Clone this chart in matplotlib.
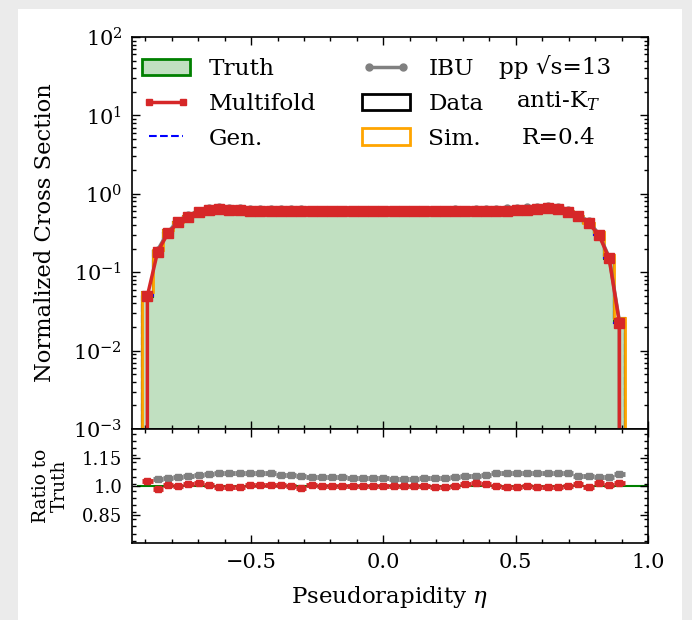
import numpy as np
import matplotlib
matplotlib.use("Agg")
import matplotlib.pyplot as plt
from matplotlib.patches import Patch, Rectangle
from matplotlib.lines import Line2D
from matplotlib.ticker import MultipleLocator, LogLocator, NullFormatter

plt.rcParams['font.family'] = ['DejaVu Serif']
plt.rcParams['mathtext.fontset'] = 'dejavuserif'

# ---------------- data ----------------
edges = np.linspace(-0.95, 0.95, 50)

truth = [0, 0.0487, 0.1856, 0.3118, 0.432, 0.5055, 0.5697, 0.6175, 0.6432, 0.6231,
         0.6175, 0.6058, 0.6058, 0.6026, 0.6008, 0.5988, 0.6004, 0.5976, 0.60, 0.60,
         0.5988, 0.598, 0.5992, 0.60, 0.60, 0.60, 0.6012, 0.60, 0.602, 0.6024,
         0.6024, 0.602, 0.5996, 0.6016, 0.6016, 0.605, 0.6124, 0.6175, 0.6313, 0.6426,
         0.6526, 0.6426, 0.59, 0.5154, 0.4217, 0.2947, 0.149, 0.0224, 0]

multifold = [0, 0.050, 0.183, 0.313, 0.432, 0.51, 0.58, 0.62, 0.64, 0.62,
             0.615, 0.61, 0.61, 0.605, 0.605, 0.60, 0.595, 0.60, 0.60, 0.60,
             0.60, 0.598, 0.598, 0.60, 0.60, 0.60, 0.60, 0.60, 0.602, 0.60,
             0.60, 0.602, 0.605, 0.61, 0.607, 0.605, 0.61, 0.615, 0.63, 0.64,
             0.65, 0.64, 0.59, 0.52, 0.42, 0.30, 0.15, 0.0227, 0]

ibu = [0, np.nan, 0.1923, 0.3243, 0.4532, 0.5328, 0.6027, 0.6552, 0.6869, 0.6655,
       0.6595, 0.6470, 0.6470, 0.6436, 0.6356, 0.6335, 0.6328, 0.6269, 0.6294, 0.6294,
       0.6281, 0.6219, 0.6232, 0.624, 0.624, 0.6216, 0.6228, 0.6228, 0.6261, 0.6271,
       0.6271, 0.6321, 0.6296, 0.6317, 0.6371, 0.6474, 0.6553, 0.6607, 0.6755, 0.6876,
       0.6963, 0.6857, 0.6295, 0.5432, 0.4445, 0.3080, 0.1557, 0.0238, 0]

gen = [0, 0.049, 0.184, 0.314, 0.436, 0.512, 0.578, 0.626, 0.650, 0.632,
       0.626, 0.614, 0.614, 0.611, 0.609, 0.607, 0.609, 0.606, 0.609, 0.609,
       0.607, 0.607, 0.608, 0.609, 0.609, 0.609, 0.610, 0.609, 0.611, 0.611,
       0.611, 0.611, 0.608, 0.610, 0.611, 0.614, 0.621, 0.626, 0.640, 0.651,
       0.660, 0.650, 0.598, 0.520, 0.425, 0.296, 0.150, 0.0224, 0]

sim = [0, 0.056, 0.190, 0.350, 0.440, 0.520, 0.585, 0.620, 0.635, 0.620,
       0.612, 0.606, 0.605, 0.603, 0.602, 0.600, 0.600, 0.599, 0.600, 0.600,
       0.599, 0.598, 0.599, 0.600, 0.600, 0.600, 0.600, 0.600, 0.601, 0.602,
       0.602, 0.602, 0.601, 0.602, 0.603, 0.605, 0.610, 0.615, 0.628, 0.638,
       0.645, 0.635, 0.595, 0.525, 0.430, 0.330, 0.168, 0.026, 0]

data = [0, 0.0555, 0.189, 0.348, 0.438, 0.518, 0.583, 0.618, 0.633, 0.618,
        0.610, 0.604, 0.603, 0.601, 0.600, 0.598, 0.598, 0.597, 0.598, 0.598,
        0.597, 0.596, 0.597, 0.598, 0.598, 0.598, 0.598, 0.598, 0.599, 0.600,
        0.600, 0.600, 0.599, 0.600, 0.601, 0.603, 0.608, 0.613, 0.626, 0.636,
        0.643, 0.633, 0.593, 0.523, 0.428, 0.328, 0.167, 0.0258, 0]

truth = np.array(truth, float)
multifold = np.array(multifold, float)
ibu = np.array(ibu, float)
centers = 0.5 * (edges[1:] + edges[:-1])
hw = 0.5 * np.diff(edges)

with np.errstate(divide='ignore', invalid='ignore'):
    r_mf = np.where(truth > 0, multifold / truth, np.nan)
    r_ibu = np.where(truth > 0, ibu / truth, np.nan)

# ---------------- figure ----------------
W, H = 692, 620
fig = plt.figure(figsize=(W / 100, H / 100), dpi=100, facecolor='#ebebeb')
fig.patches.append(Rectangle((18 / W, 0), (682 - 18) / W, 1 - 9 / H,
                             transform=fig.transFigure, facecolor='white',
                             edgecolor='none', zorder=-10))

L, R = 132 / W, 648 / W
ax = fig.add_axes([L, 1 - 429 / H, R - L, (429 - 37) / H])
ax2 = fig.add_axes([L, 1 - 543 / H, R - L, (543 - 429) / H], sharex=ax)

red = '#d62728'
gray = '#808080'
green_fill = (0, 0.5, 0, 0.245)
FS = 16.7

ax.stairs(truth, edges, fill=True, baseline=1e-7, facecolor=green_fill,
          edgecolor='none', zorder=1)
ax.stairs(truth, edges, color='green', lw=1.5, baseline=0, zorder=1.5)
ax.stairs(gen, edges, color='blue', lw=1.5, ls='--', zorder=1.7)
ax.stairs(data, edges, color='black', lw=1.5, zorder=1.8)
ax.stairs(sim, edges, color='orange', lw=2, zorder=2)
ax.plot(centers, ibu, color=gray, marker='o', lw=2.5, ms=5, zorder=3)
ax.plot(centers, multifold, color=red, marker='s', lw=2.5, ms=6.5, zorder=4)

ax.set_yscale('log')
ax.set_ylim(1e-3, 1e2)
ax.set_xlim(-0.95, 1.0)
ax.set_ylabel('Normalized Cross Section', fontsize=16.3)
ax.yaxis.set_label_coords(-0.147, 0.5)
ax.yaxis.set_major_locator(LogLocator(base=10, numticks=10))
ax.yaxis.set_minor_locator(LogLocator(base=10, subs=np.arange(2, 10), numticks=20))
ax.yaxis.set_minor_formatter(NullFormatter())
ax.tick_params(labelbottom=False)

handles = [
    Patch(facecolor=green_fill, edgecolor='green', lw=2),
    Line2D([], [], color=red, marker='s', lw=2.5, ms=5),
    Line2D([], [], color='blue', ls='--', lw=1.5),
    Line2D([], [], color=gray, marker='o', lw=2.5, ms=5),
    Patch(facecolor='none', edgecolor='black', lw=2),
    Patch(facecolor='none', edgecolor='orange', lw=2),
]
labels = ['Truth', 'Multifold', 'Gen.', 'IBU', 'Data', 'Sim.']
ax.legend(handles, labels, ncol=2, loc='upper left', frameon=False, fontsize=FS,
          numpoints=2, handlelength=2.07, handletextpad=0.78, columnspacing=2.0,
          labelspacing=0.55, borderaxespad=0.0, borderpad=0.4,
          bbox_to_anchor=(0.002, 0.97))

ax.text(0.820, 0.923, 'pp √s=13', transform=ax.transAxes, ha='center', va='center', fontsize=FS)
ax.text(0.827, 0.837, 'anti-K$_T$', transform=ax.transAxes, ha='center', va='center', fontsize=FS)
ax.text(0.827, 0.742, 'R=0.4', transform=ax.transAxes, ha='center', va='center', fontsize=FS)

# ratio panel
ax2.hlines(1.0, centers[0], 1.0, color='green', lw=1.5, zorder=1)
ax2.errorbar(centers, r_ibu, xerr=hw, yerr=0.01, fmt='s', color=gray, ms=4,
             elinewidth=3.5, capsize=0, zorder=2)
ax2.errorbar(centers, r_mf, xerr=hw, yerr=0.01, fmt='s', color=red, ms=4,
             elinewidth=3.5, capsize=0, zorder=3)
ax2.set_ylim(0.7, 1.3)
ax2.set_yticks([0.85, 1.0, 1.15])
ax2.set_yticklabels(['0.85', '1.0', '1.15'])
ax2.yaxis.set_minor_locator(MultipleLocator(0.0375))
ax2.set_ylabel('Ratio to\nTruth', fontsize=13.4, linespacing=1.05)
ax2.yaxis.set_label_coords(-0.122, 0.5)
ax2.set_xlabel('Pseudorapidity $\\eta$', fontsize=16.5, labelpad=9)
ax2.xaxis.set_major_locator(MultipleLocator(0.5))
ax2.xaxis.set_minor_locator(MultipleLocator(0.1))

for a in (ax, ax2):
    a.tick_params(which='both', direction='in', top=True, right=True)
    a.tick_params(which='major', length=6, width=1, pad=7)
    a.tick_params(which='minor', length=3, width=1)
    for s in a.spines.values():
        s.set_linewidth(1.2)
ax.tick_params(axis='both', which='major', labelsize=15)
ax2.tick_params(axis='x', which='major', labelsize=15)
ax2.tick_params(axis='y', which='major', labelsize=13)

fig.savefig('out.png', dpi=100, facecolor=fig.get_facecolor())
